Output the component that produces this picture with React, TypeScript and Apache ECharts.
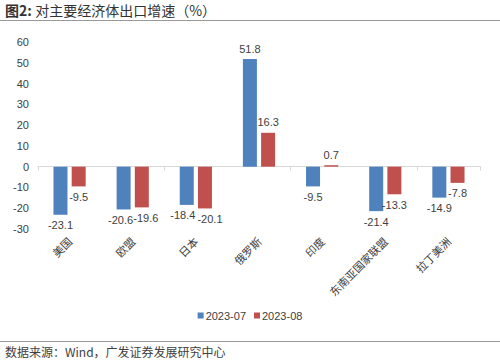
import React, { useEffect, useRef } from "react";
import * as echarts from "echarts";

const categories = ["美国", "欧盟", "日本", "俄罗斯", "印度", "东南亚国家联盟", "拉丁美洲"];
const jul2023 = [-23.1, -20.6, -18.4, 51.8, -9.5, -21.4, -14.9];
const aug2023 = [-9.5, -19.6, -20.1, 16.3, 0.7, -13.3, -7.8];
const seriesNames = ["2023-07", "2023-08"];
// small horizontal nudges of data labels to avoid collisions (as in the reference)
const julLabelShift = [0, -3, -4, 0, 0, 0, 0];
const augLabelShift = [0, 4, 5, 0, 0, 0, 0];

const FONT = "'Noto Sans CJK SC', 'Liberation Sans', Arial, sans-serif";
const LAT = "'Liberation Sans', Arial, sans-serif";

export default function App() {
  const ref = useRef<HTMLDivElement>(null);
  useEffect(() => {
    if (!ref.current) return;
    const chart = echarts.init(ref.current, undefined, { renderer: "svg" });
    const labelStyle = {
      show: true,
      fontSize: 11,
      color: "#404040",
      fontFamily: LAT,
      formatter: (p: any) => p.value.toFixed(1),
    };
    const mkData = (arr: number[], shifts: number[]) =>
      arr.map((v, i) => ({
        value: v,
        label: { position: v >= 0 ? "top" : "bottom", offset: [shifts[i], 0] },
      }));
    chart.setOption({
      animation: false,
      backgroundColor: "#ffffff",
      textStyle: { fontFamily: FONT },
      grid: { left: 38, right: 20, top: 42, bottom: 134, containLabel: false },
      legend: {
        data: seriesNames,
        left: "center",
        top: 305,
        itemWidth: 6,
        itemHeight: 6,
        itemGap: 8,
        icon: "rect",
        textStyle: { fontSize: 11, color: "#404040", fontFamily: LAT, padding: [0, 0, 0, -3] },
      },
      xAxis: [
        {
          type: "category",
          data: categories,
          axisLine: { onZero: true, lineStyle: { color: "#d9d9d9", width: 1 } },
          axisTick: { show: true, lineStyle: { color: "#d9d9d9" }, length: 4 },
          axisLabel: { show: false },
        },
        {
          type: "category",
          data: categories,
          position: "bottom",
          axisLine: { show: false },
          axisTick: { show: false },
          axisLabel: {
            show: true,
            rotate: 45,
            fontSize: 11,
            color: "#404040",
            margin: 10,
            fontFamily: FONT,
            interval: 0,
          },
        },
      ],
      yAxis: {
        type: "value",
        min: -30,
        max: 60,
        interval: 10,
        splitLine: { show: false },
        axisLine: { show: false },
        axisTick: { show: false },
        axisLabel: { fontSize: 11, color: "#404040", margin: 9, fontFamily: LAT },
      },
      series: [
        {
          name: seriesNames[0],
          type: "bar",
          data: mkData(jul2023, julLabelShift),
          itemStyle: { color: "#4F81BD" },
          barWidth: 14,
          barGap: "30%",
          label: labelStyle,
        },
        {
          name: seriesNames[1],
          type: "bar",
          data: mkData(aug2023, augLabelShift),
          itemStyle: { color: "#C0504D" },
          barWidth: 14,
          barGap: "30%",
          label: labelStyle,
        },
      ],
      graphic: [
        {
          type: "text",
          left: 5,
          top: 3,
          style: {
            text: "{b|图2:} {n|对主要经济体出口增速（%）}",
            rich: {
              b: { fontSize: 14, fontWeight: "bold", fill: "#333", fontFamily: FONT },
              n: { fontSize: 14, fontWeight: "normal", fill: "#333", fontFamily: FONT },
            },
          },
        },
        {
          type: "line",
          shape: { x1: 0, y1: 20.5, x2: 500, y2: 20.5 },
          style: { stroke: "#999", lineWidth: 1 },
        },
        {
          type: "line",
          shape: { x1: 0, y1: 341.5, x2: 500, y2: 341.5 },
          style: { stroke: "#999", lineWidth: 1 },
        },
        {
          type: "text",
          left: 5,
          top: 345,
          style: {
            text: "数据来源：Wind，广发证券发展研究中心",
            fontSize: 12,
            fill: "#404040",
            fontFamily: FONT,
          },
        },
      ],
    });
    return () => chart.dispose();
  }, []);
  return <div ref={ref} style={{ width: 500, height: 363, position: "absolute", left: 0, top: 0 }} />;
}
